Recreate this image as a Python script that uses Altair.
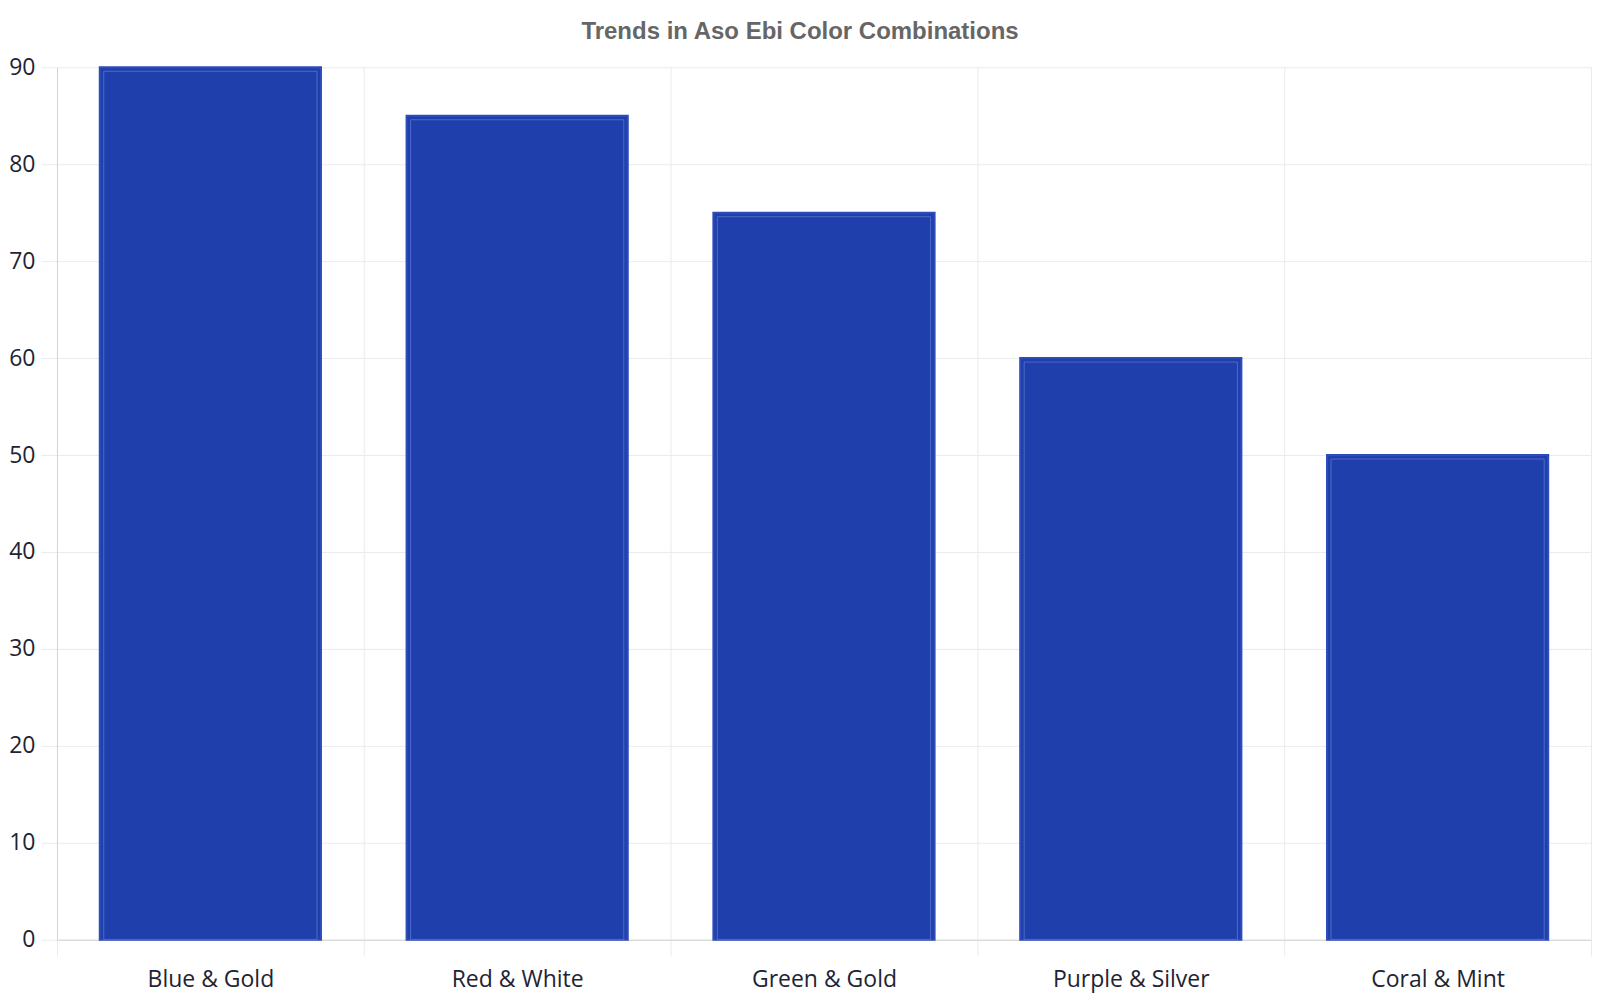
import altair as alt
import pandas as pd

combos = ["Blue & Gold", "Red & White", "Green & Gold", "Purple & Silver", "Coral & Mint"]
popularity = [90, 85, 75, 60, 50]

source = pd.DataFrame({"combo": combos, "popularity": popularity})

x_enc = alt.X(
    "combo:N",
    sort=combos,
    title=None,
    scale=alt.Scale(paddingInner=0, paddingOuter=0),
    axis=alt.Axis(
        tickBand="extent",
        labelAngle=0,
        labelFont="Open Sans",
        labelFontSize=23,
        labelColor="#1e2433",
        labelPadding=13,
        tickSize=16,
        tickColor="#ebebeb",
        gridColor="#ebebeb",
        grid=True,
        domainColor="#d3d3d3",
    ),
)
y_enc = alt.Y(
    "popularity:Q",
    title=None,
    scale=alt.Scale(domain=[0, 90], nice=False),
    axis=alt.Axis(
        values=list(range(0, 100, 10)),
        labelFont="Open Sans",
        labelFontSize=23,
        labelColor="#1e2433",
        labelPadding=6,
        tickSize=16,
        tickColor="#ebebeb",
        gridColor="#ebebeb",
        domainColor="#d3d3d3",
    ),
)

bars = alt.Chart(source).mark_bar(
    color="#1f40ac", stroke="#2c4cbc", strokeWidth=2,
    width=alt.RelativeBandSize(0.721)
).encode(x=x_enc, y=y_enc)

inner = alt.Chart(source).mark_bar(
    filled=False, stroke="#5a74cc", strokeWidth=1, strokeOpacity=0.8,
    width=alt.RelativeBandSize(0.695), yOffset=4
).encode(x=x_enc, y=y_enc, y2=alt.datum(0))

chart = (bars + inner).properties(
    width=1535,
    height=873,
    padding={"left": 0, "top": 12, "right": 0, "bottom": 4},
    title=alt.Title(
        "Trends in Aso Ebi Color Combinations",
        font="Liberation Sans",
        fontSize=24,
        fontWeight="bold",
        color="#666666",
        anchor="middle",
        dx=-24,
        offset=12,
    ),
).configure_view(stroke=None)

chart.save("out.html", embed_options={"renderer": "svg", "actions": False})
